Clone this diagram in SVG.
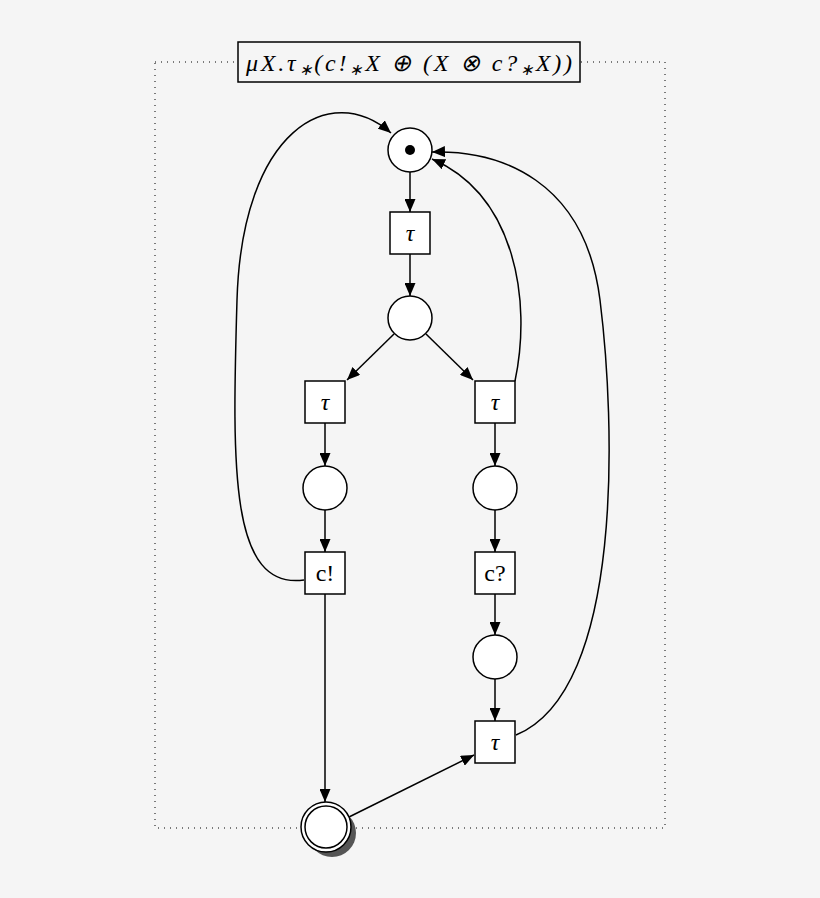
<svg xmlns="http://www.w3.org/2000/svg" width="820" height="898" viewBox="0 0 820 898">
<style>
.p{fill:#fff;stroke:#000;stroke-width:1.5}
.t{fill:#fff;stroke:#000;stroke-width:1.5}
.c{fill:none;stroke:#000;stroke-width:1.5;marker-end:url(#a)}
text{font-family:"Liberation Serif",serif;font-size:24px;text-anchor:middle}
</style>
<defs><marker id="a" viewBox="0 0 10 10" refX="10" refY="5" markerWidth="13" markerHeight="11" orient="auto" markerUnits="userSpaceOnUse" preserveAspectRatio="none"><path d="M0,0 L10,5 L0,10 z"/></marker></defs>
<rect width="820" height="898" fill="#f5f5f5"/>
<rect x="155" y="62" width="510" height="766" fill="none" stroke="#000" stroke-dasharray="1,5"/>
<g id="title"><rect x="238" y="42" width="342" height="40" fill="#f5f5f5" stroke="#000" stroke-width="1.5"/><text x="409" y="71" font-style="italic" font-size="26" textLength="326" lengthAdjust="spacing">μX.τ<tspan font-size="16" dy="4">∗</tspan><tspan dy="-4">(c!</tspan><tspan font-size="16" dy="4">∗</tspan><tspan dy="-4">X ⊕ (X ⊗ c?</tspan><tspan font-size="16" dy="4">∗</tspan><tspan dy="-4">X))</tspan></text></g>
<g id="edges">
<path class="c" d="M410,172 L410,212"/>
<path class="c" d="M410,254 L410,296"/>
<path class="c" d="M394,334 L347,380"/>
<path class="c" d="M426,334 L473,380"/>
<path class="c" d="M325,423 L325,466"/>
<path class="c" d="M325,510 L325,552"/>
<path class="c" d="M495,423 L495,466"/>
<path class="c" d="M495,510 L495,552"/>
<path class="c" d="M495,594 L495,635"/>
<path class="c" d="M495,679 L495,721"/>
<path class="c" d="M325,594 L325,802"/>
<path class="c" d="M349,817 L474,755"/>
<path class="c" d="M304,580 C230,590 232,470 237,300 C242,130 330,80 391,133"/>
<path class="c" d="M515,381 C532,300 515,195 432,159"/>
<path class="c" d="M516,735 C625,690 615,420 600,300 C585,180 500,150 432,152"/>
</g>
<g id="p0"><circle class="p" cx="410" cy="150" r="22"/><circle cx="410" cy="150" r="5"/></g>
<g id="t0"><rect class="t" x="390" y="212" width="40" height="42"/><text x="410" y="241" font-style="italic">τ</text></g>
<g id="p1"><circle class="p" cx="410" cy="318" r="22"/></g>
<g id="t1"><rect class="t" x="305" y="381" width="40" height="42"/><text x="325" y="410" font-style="italic">τ</text></g>
<g id="t2"><rect class="t" x="475" y="381" width="40" height="42"/><text x="495" y="410" font-style="italic">τ</text></g>
<g id="p2"><circle class="p" cx="325" cy="488" r="22"/></g>
<g id="p3"><circle class="p" cx="495" cy="488" r="22"/></g>
<g id="t3"><rect class="t" x="305" y="552" width="40" height="42"/><text x="325" y="581">c!</text></g>
<g id="t4"><rect class="t" x="475" y="552" width="40" height="42"/><text x="495" y="581">c?</text></g>
<g id="p4"><circle class="p" cx="495" cy="657" r="22"/></g>
<g id="t5"><rect class="t" x="475" y="721" width="40" height="42"/><text x="495" y="750" font-style="italic">τ</text></g>
<g id="pf"><circle cx="332" cy="833" r="24" fill="#555"/><circle class="p" cx="326" cy="827" r="25"/><circle class="p" cx="326" cy="827" r="21"/></g>
</svg>
